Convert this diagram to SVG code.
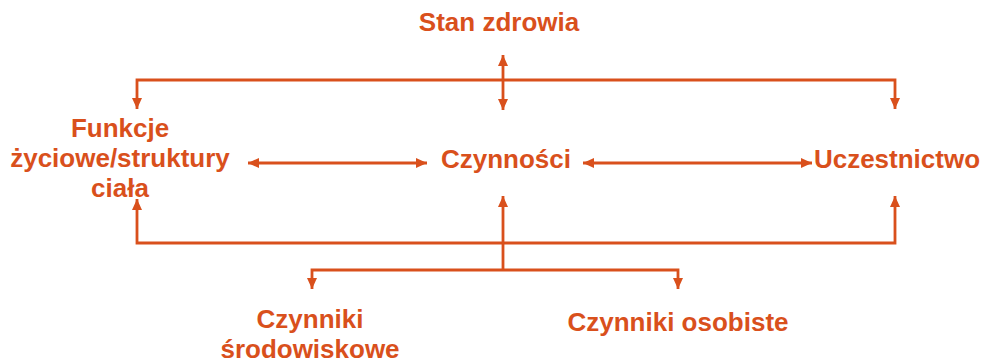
<svg xmlns="http://www.w3.org/2000/svg" width="985" height="362" viewBox="0 0 985 362">
<style>
.t{font-family:"Liberation Sans",Arial,sans-serif;font-weight:bold;font-size:26px;fill:#D9501C;text-anchor:middle}
.c{fill:none;stroke:#D9501C;stroke-width:2.8}
</style>
<defs>
<marker id="ah" markerUnits="userSpaceOnUse" markerWidth="12" markerHeight="11" refX="11" refY="5.5" orient="auto-start-reverse">
<path d="M0,0.5 L11,5.5 L0,10.5 z" fill="#D9501C"/>
</marker>
</defs>
<rect width="985" height="362" fill="#fff"/>
<g id="connectors">
<path class="c" d="M137,109 V80 H895 V109" marker-start="url(#ah)" marker-end="url(#ah)"/>
<path class="c" d="M503,55 V110" marker-start="url(#ah)" marker-end="url(#ah)"/>
<path class="c" d="M248,163 H427" marker-start="url(#ah)" marker-end="url(#ah)"/>
<path class="c" d="M583,163 H812" marker-start="url(#ah)" marker-end="url(#ah)"/>
<path class="c" d="M137,199 V243 H895 V196" marker-start="url(#ah)" marker-end="url(#ah)"/>
<path class="c" d="M503,270 V196" marker-end="url(#ah)"/>
<path class="c" d="M312,289 V270 H678 V289" marker-start="url(#ah)" marker-end="url(#ah)"/>
</g>
<g id="stan-zdrowia"><text class="t" x="499" y="31">Stan zdrowia</text></g>
<g id="funkcje">
<text class="t" x="120" y="137">Funkcje</text>
<text class="t" x="120" y="167">życiowe/struktury</text>
<text class="t" x="120" y="197">ciała</text>
</g>
<g id="czynnosci"><text class="t" x="506" y="168">Czynności</text></g>
<g id="uczestnictwo"><text class="t" x="897" y="168">Uczestnictwo</text></g>
<g id="czynniki-srodowiskowe">
<text class="t" x="310" y="328">Czynniki</text>
<text class="t" x="310" y="358">środowiskowe</text>
</g>
<g id="czynniki-osobiste"><text class="t" x="678" y="331">Czynniki osobiste</text></g>
</svg>
